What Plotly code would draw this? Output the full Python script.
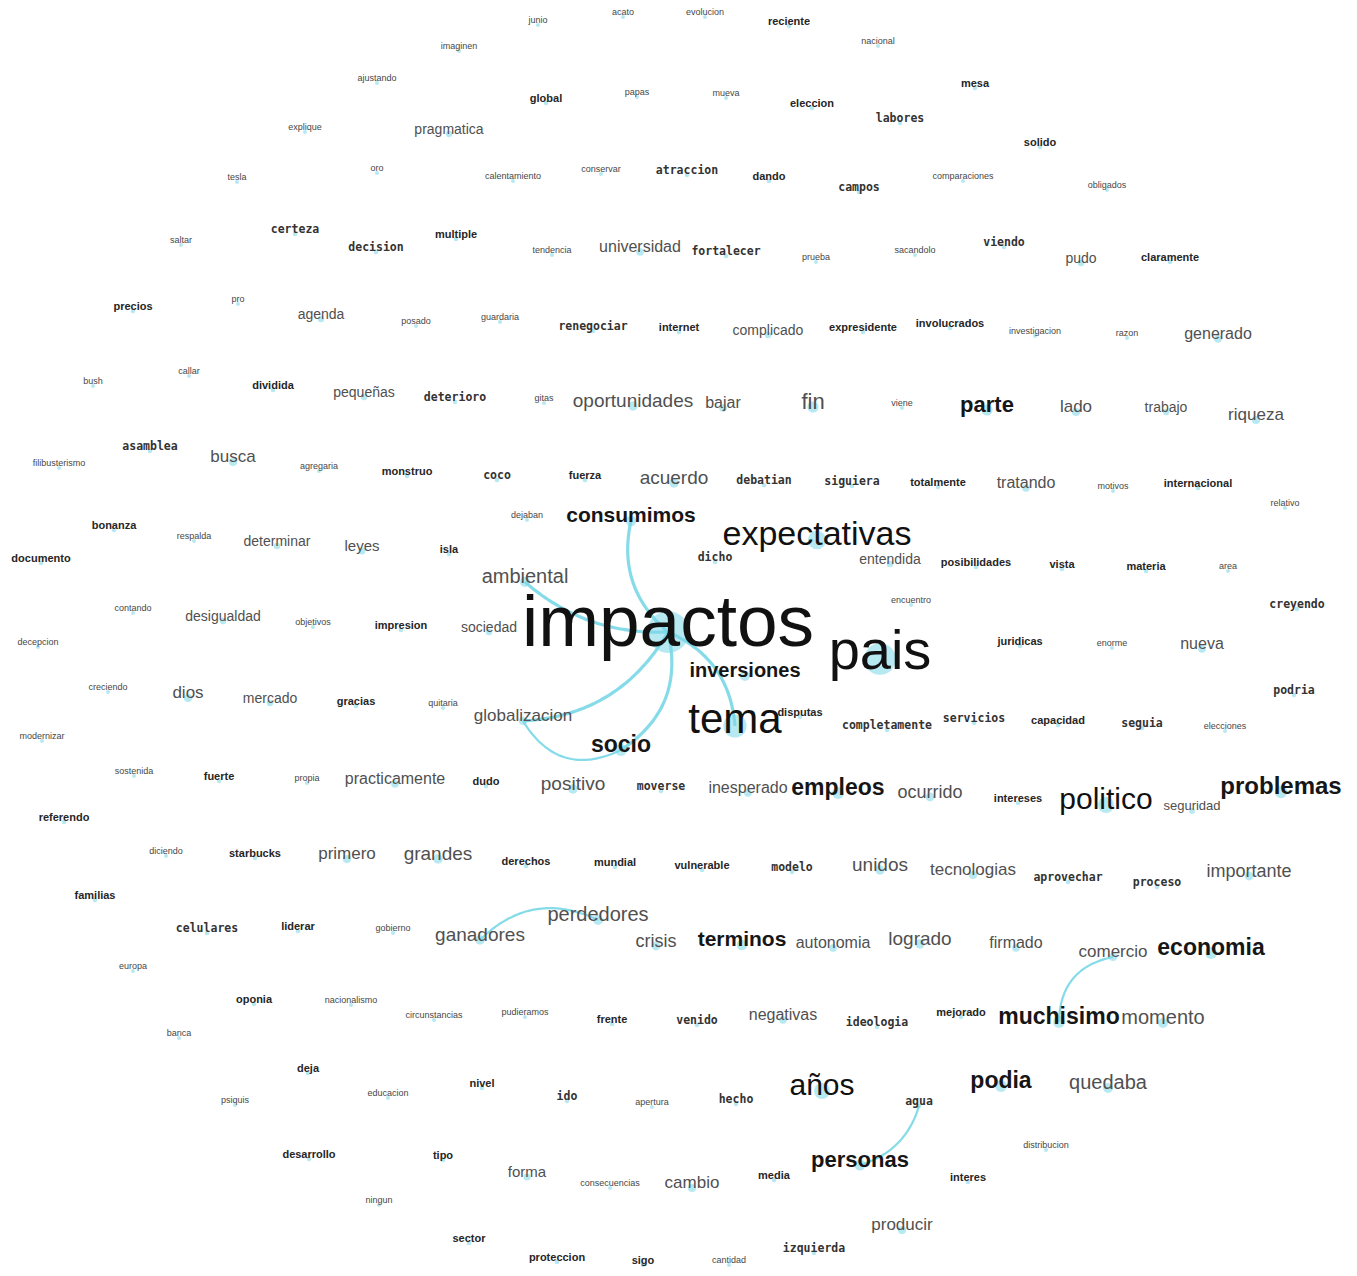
import plotly.graph_objects as go

# ---- data: word network (layout coordinates, frequency, style group) ----
words = ["junio","acato","evolucion","reciente","imaginen","nacional","ajustando","global","papas","mueva",
 "eleccion","mesa","explique","pragmatica","labores","solido","oro","tesla","calentamiento","conservar",
 "atraccion","dando","campos","comparaciones","obligados","certeza","saltar","decision","multiple","tendencia",
 "universidad","fortalecer","prueba","sacandolo","viendo","pudo","claramente","precios","pro","agenda",
 "posado","guardaria","renegociar","internet","complicado","expresidente","involucrados","investigacion","razon","generado",
 "bush","callar","dividida","pequeñas","deterioro","gitas","oportunidades","bajar","fin","viene",
 "parte","lado","trabajo","riqueza","asamblea","filibusterismo","busca","agregaria","monstruo","coco",
 "fuerza","acuerdo","debatian","siguiera","totalmente","tratando","motivos","internacional","relativo","bonanza",
 "respalda","dejaban","consumimos","expectativas","determinar","leyes","isla","dicho","entendida","posibilidades",
 "vista","materia","area","documento","ambiental","encuentro","creyendo","contando","desigualdad","objetivos",
 "impresion","sociedad","impactos","pais","juridicas","enorme","nueva","decepcion","creciendo","dios",
 "mercado","gracias","quitaria","inversiones","podria","globalizacion","tema","disputas","completamente","servicios",
 "capacidad","seguia","elecciones","modernizar","socio","sostenida","fuerte","propia","practicamente","dudo",
 "positivo","moverse","inesperado","empleos","ocurrido","intereses","politico","seguridad","problemas","referendo",
 "diciendo","starbucks","primero","grandes","derechos","mundial","vulnerable","modelo","unidos","tecnologias",
 "aprovechar","proceso","importante","familias","perdedores","celulares","liderar","gobierno","ganadores","crisis",
 "terminos","autonomia","logrado","firmado","comercio","economia","europa","oponia","nacionalismo","circunstancias",
 "pudieramos","frente","venido","negativas","ideologia","mejorado","muchisimo","momento","banca","deja",
 "educacion","psiquis","nivel","ido","apertura","hecho","años","agua","podia","quedaba",
 "distribucion","desarrollo","tipo","forma","consecuencias","cambio","media","personas","interes","ningun",
 "producir","sector","proteccion","sigo","cantidad","izquierda"]

x = [538,623,705,789,459,878,377,546,637,726,
 812,975,305,449,900,1040,377,237,513,601,
 687,769,859,963,1107,295,181,376,456,552,
 640,726,816,915,1004,1081,1170,133,238,321,
 416,500,593,679,768,863,950,1035,1127,1218,
 93,189,273,364,455,544,633,723,813,902,
 987,1076,1166,1256,150,59,233,319,407,497,
 585,674,764,852,938,1026,1113,1198,1285,114,
 194,527,631,817,277,362,449,715,890,976,
 1062,1146,1228,41,525,911,1297,133,223,313,
 401,489,668,880,1020,1112,1202,38,108,188,
 270,356,443,745,1294,523,735,800,887,974,
 1058,1142,1225,42,621,134,219,307,395,486,
 573,661,748,838,930,1018,1106,1192,1281,64,
 166,255,347,438,526,615,702,792,880,973,
 1068,1157,1249,95,598,207,298,393,480,656,
 742,833,920,1016,1113,1211,133,254,351,434,
 525,612,697,783,877,961,1059,1163,179,308,
 388,235,482,567,652,736,822,919,1001,1108,
 1046,309,443,527,610,692,774,860,968,379,
 902,469,557,643,729,814]

y = [21,13,13,22,47,42,79,99,93,94,
 104,84,128,130,119,143,169,178,177,170,
 171,177,188,177,186,230,241,248,235,251,
 248,252,258,251,243,259,258,307,300,315,
 322,318,327,328,331,328,324,332,334,335,
 382,372,386,393,398,399,402,404,403,404,
 406,408,408,416,447,464,458,467,472,476,
 476,479,481,482,483,484,487,484,504,526,
 537,516,517,536,542,547,550,558,560,563,
 565,567,567,559,578,601,605,609,617,623,
 626,628,628,655,642,644,645,643,688,694,
 699,702,704,672,691,717,722,713,726,719,
 721,724,727,737,746,772,777,779,780,782,
 785,787,789,789,793,799,801,807,788,818,
 852,854,855,855,862,863,866,868,866,871,
 878,883,872,896,916,929,927,929,936,942,
 941,944,940,944,953,949,967,1000,1001,1016,
 1013,1020,1021,1016,1023,1013,1018,1019,1034,1069,
 1094,1101,1084,1097,1103,1100,1087,1102,1082,1084,
 1146,1155,1156,1173,1184,1184,1176,1161,1178,1201,
 1226,1239,1258,1261,1261,1249]

freq = [9,9,9,11,9,9,9,11,9,9,
 11,11,9,14,11,11,9,9,9,9,
 11,11,11,9,9,11,9,11,11,9,
 16,11,9,9,11,14,11,11,9,14,
 9,9,11,11,14,11,11,9,9,16,
 9,9,11,14,11,9,19,16,22,9,
 22,17,14,17,11,9,17,9,11,11,
 11,19,11,11,11,16,9,11,9,11,
 9,9,21,34,14,15,11,11,14,11,
 11,11,9,11,20,9,11,9,14,9,
 11,14,73,56,11,9,16,9,9,17,
 14,11,9,20,11,17,42,11,11,11,
 11,11,9,9,23,9,11,9,16,11,
 19,11,16,23,18,11,30,13,24,11,
 9,11,17,19,11,11,11,11,19,17,
 11,11,18,11,20,11,11,9,19,18,
 21,16,19,16,17,23,9,11,9,9,
 9,11,11,16,11,11,23,20,9,11,
 9,9,11,11,9,11,30,11,23,20,
 9,11,11,15,9,17,11,22,11,9,
 17,11,11,11,9,11]

# style group: t=minor, b=bold, m=spaced bold, g=regular grey, k=bold black, K=large regular
group = ["t","t","t","b","t","t","t","b","t","t",
 "b","b","t","g","m","b","t","t","t","t",
 "m","b","m","t","t","m","t","m","b","t",
 "g","m","t","t","m","g","b","b","t","g",
 "t","t","m","b","g","b","b","t","t","g",
 "t","t","b","g","m","t","g","g","g","t",
 "k","g","g","g","m","t","g","t","b","m",
 "b","g","m","m","b","g","t","b","t","b",
 "t","t","k","K","g","g","b","m","g","b",
 "b","b","t","b","g","t","m","t","g","t",
 "b","g","K","K","b","t","g","t","t","g",
 "g","b","t","k","m","g","K","b","m","m",
 "b","m","t","t","k","t","b","t","g","b",
 "g","m","g","k","g","b","K","g","k","b",
 "t","b","g","g","b","b","b","m","g","g",
 "m","m","g","b","g","m","b","t","g","g",
 "k","g","g","g","g","k","t","b","t","t",
 "t","b","m","g","m","b","k","g","t","b",
 "t","t","b","m","t","m","K","m","k","g",
 "t","b","b","g","t","g","b","k","b","t",
 "g","b","b","b","t","m"]

# co-occurrence links (source, target, curvature)
edge_src = ["impactos","impactos","impactos","globalizacion","impactos","impactos","ganadores","comercio","agua"]
edge_dst = ["consumimos","ambiental","globalizacion","socio","socio","tema","perdedores","muchisimo","personas"]
edge_curv = [-0.3,-0.2,-0.27,0.45,-0.35,-0.3,-0.35,0.4,-0.27]

# ---- build figure ----
PAGE_OFF = 8  # browser default body margin
W, H = 1357 - 2 * PAGE_OFF, 1276 - 2 * PAGE_OFF

idx = {w: i for i, w in enumerate(words)}
fig = go.Figure()

def node_xy(w):
    i = idx[w]
    return x[i], y[i] + 4

for s, d, c in zip(edge_src, edge_dst, edge_curv):
    ax, ay = node_xy(s)
    bx, by = node_xy(d)
    dx, dy = bx - ax, by - ay
    mx, my = (ax + bx) / 2, (ay + by) / 2
    cx, cy = mx + c * (-dy), my + c * dx
    xs, ys = [], []
    n = 40
    for k in range(n + 1):
        t = k / n
        xs.append((1 - t) ** 2 * ax + 2 * t * (1 - t) * cx + t ** 2 * bx)
        ys.append((1 - t) ** 2 * ay + 2 * t * (1 - t) * cy + t ** 2 * by)
    width = 3.2 if s == "impactos" else 2.2
    fig.add_trace(go.Scatter(x=xs, y=ys, mode="lines",
                             line=dict(color="rgba(120,215,230,0.9)", width=width, shape="spline"),
                             hoverinfo="skip", showlegend=False))

# nodes
fig.add_trace(go.Scatter(
    x=[x[i] for i in range(len(words))],
    y=[y[i] + 4 for i in range(len(words))],
    mode="markers",
    marker=dict(size=[max(4, 0.6 * f - 2) for f in freq],
                color="rgba(125,215,232,0.8)", line=dict(width=0)),
    hoverinfo="skip", showlegend=False))

styles = {
    "t": dict(family="Liberation Sans", color="#474747", weight="normal"),
    "b": dict(family="Liberation Sans", color="#262626", weight="bold"),
    "m": dict(family="DejaVu Sans Mono", color="#333333", weight="bold"),
    "g": dict(family="Liberation Sans", color="#505050", weight="normal"),
    "k": dict(family="Liberation Sans", color="#161616", weight="bold"),
    "K": dict(family="Liberation Sans", color="#111111", weight="normal"),
}
for g, st in styles.items():
    ii = [i for i in range(len(words)) if group[i] == g]
    sizes = [freq[i] if g != "m" else 11.5 for i in ii]
    fig.add_trace(go.Scatter(
        x=[x[i] for i in ii], y=[y[i] for i in ii],
        mode="text", text=[words[i] for i in ii],
        textposition="middle center",
        textfont=dict(family=st["family"], color=st["color"], size=sizes, weight=st["weight"]),
        cliponaxis=False,
        hoverinfo="skip", showlegend=False))

fig.update_layout(
    width=W, height=H,
    margin=dict(l=0, r=0, t=0, b=0),
    paper_bgcolor="white", plot_bgcolor="white",
    xaxis=dict(range=[PAGE_OFF, PAGE_OFF + W], visible=False, fixedrange=True),
    yaxis=dict(range=[PAGE_OFF + H, PAGE_OFF], visible=False, fixedrange=True),
    hovermode=False,
)
fig.write_html("out.html")
